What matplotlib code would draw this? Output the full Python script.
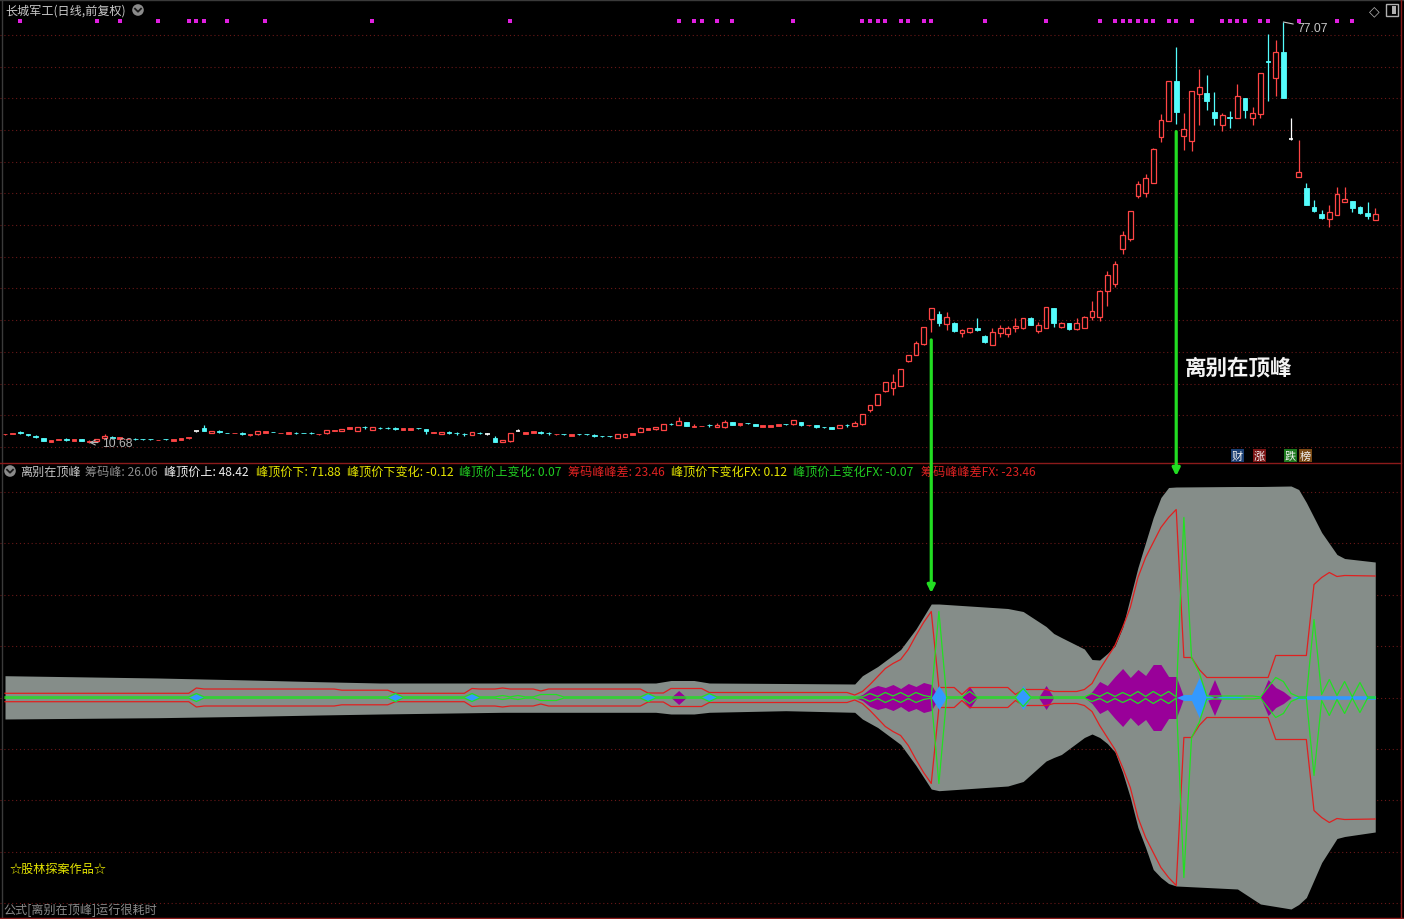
import numpy as np
import matplotlib
matplotlib.use('Agg')
import matplotlib.pyplot as plt
from matplotlib.patches import Rectangle, Circle, ConnectionPatch
from matplotlib.transforms import blended_transform_factory

plt.rcParams['font.family'] = ['Noto Sans CJK SC', 'DejaVu Sans']

# ---------------- data ----------------
OPEN = [11.98, 12.10, 12.24, 12.02, 11.62, 11.34, 10.81, 11.15, 11.15, 10.97,
        11.23, 10.71, 10.92, 11.34, 11.49, 11.23, 11.20, 11.25, 11.20, 11.20,
        11.05, 11.20, 10.97, 11.13, 11.34, 12.55, 13.02, 12.18, 12.41, 12.20,
        12.15, 12.23, 11.81, 11.97, 12.23, 12.36, 12.15, 12.07, 12.20, 12.20,
        12.20, 11.95, 12.13, 12.50, 12.49, 12.86, 12.54, 13.10, 12.70, 12.99,
        12.99, 12.88, 12.70, 12.70, 12.94, 12.76, 12.20, 12.02, 12.25, 12.15,
        11.99, 11.91, 12.20, 12.02, 11.44, 10.76, 10.86, 12.55, 12.02, 12.23,
        12.25, 12.15, 11.95, 12.00, 11.76, 12.00, 12.00, 11.77, 11.68, 11.68,
        11.38, 11.60, 11.91, 12.38, 12.70, 12.76, 12.70, 13.62, 13.49, 13.92,
        13.16, 13.26, 13.41, 13.18, 13.18, 13.87, 13.49, 13.73, 13.60, 13.18,
        13.18, 13.34, 13.57, 13.55, 13.92, 13.37, 13.39, 13.10, 13.13, 12.97,
        13.41, 13.26, 13.55, 15.86, 16.60, 18.76, 19.24, 19.65, 23.59, 24.54,
        26.18, 30.18, 30.97, 29.44, 29.55, 27.97, 28.17, 28.71, 27.49, 26.12,
        27.97, 27.81, 28.71, 28.71, 30.34, 28.33, 28.81, 31.92, 28.87, 29.55,
        28.55, 28.76, 30.45, 30.45, 34.65, 35.70, 41.20, 42.81, 49.60, 50.00,
        51.65, 58.91, 61.49, 67.76, 59.12, 58.33, 65.70, 65.86, 62.81, 60.85,
        62.05, 61.91, 65.02, 61.96, 62.59, 70.90, 68.27, 72.29, 58.60, 52.64,
        50.86, 47.81, 46.76, 46.02, 46.65, 48.70, 48.76, 47.91, 46.96, 45.86]
HIGH = [12.10, 12.22, 12.45, 12.08, 11.80, 11.40, 11.06, 11.24, 11.35, 11.26,
        11.26, 11.02, 11.28, 11.95, 11.70, 11.55, 11.30, 11.42, 11.24, 11.24,
        11.14, 11.24, 11.27, 11.43, 11.59, 12.55, 13.45, 12.52, 12.60, 12.24,
        12.24, 12.27, 12.10, 12.53, 12.53, 12.40, 12.24, 12.38, 12.40, 12.24,
        12.40, 12.04, 12.72, 12.59, 12.85, 13.17, 13.12, 13.30, 13.12, 13.18,
        13.18, 13.06, 13.01, 12.96, 12.98, 12.80, 12.29, 12.38, 12.44, 12.34,
        12.18, 12.33, 12.39, 12.20, 11.66, 11.10, 12.17, 12.81, 12.33, 12.53,
        12.44, 12.34, 12.04, 12.04, 12.01, 12.04, 12.04, 11.96, 11.72, 11.72,
        12.01, 12.01, 12.22, 13.18, 13.01, 13.18, 13.59, 13.81, 14.75, 13.96,
        13.55, 13.35, 13.60, 13.76, 14.23, 13.91, 13.80, 13.77, 13.64, 13.43,
        13.43, 13.64, 13.61, 14.27, 13.96, 13.46, 13.43, 13.14, 13.17, 13.43,
        13.60, 14.07, 15.17, 16.60, 18.33, 20.22, 21.49, 22.28, 24.50, 26.66,
        28.91, 31.92, 31.44, 31.33, 29.75, 28.53, 28.75, 30.34, 27.70, 28.76,
        29.23, 29.12, 30.34, 30.33, 30.50, 29.75, 32.11, 31.96, 29.64, 29.59,
        30.29, 30.58, 33.02, 34.69, 37.80, 39.30, 44.00, 47.30, 52.00, 53.00,
        57.10, 62.54, 67.80, 73.12, 62.70, 66.17, 69.65, 68.70, 65.97, 62.70,
        63.02, 67.28, 65.06, 63.65, 69.06, 75.17, 74.23, 77.07, 61.91, 58.44,
        51.65, 48.97, 47.39, 48.18, 51.07, 51.02, 48.80, 48.07, 48.65, 47.70]
LOW = [11.92, 12.05, 12.00, 11.76, 11.40, 10.92, 10.78, 11.12, 10.95, 10.94,
       10.94, 10.68, 10.88, 11.30, 11.25, 11.20, 11.17, 11.05, 11.12, 11.12,
       11.02, 11.12, 10.94, 11.10, 11.30, 12.30, 12.50, 12.15, 12.15, 12.12,
       12.12, 11.94, 11.78, 11.94, 12.20, 12.28, 12.12, 12.04, 11.96, 12.12,
       11.96, 11.92, 12.10, 12.47, 12.46, 12.83, 12.50, 12.86, 12.66, 12.76,
       12.76, 12.64, 12.67, 12.67, 12.86, 12.07, 12.17, 11.99, 12.02, 11.92,
       11.76, 11.88, 11.97, 11.85, 10.78, 10.73, 10.83, 12.50, 11.99, 12.20,
       12.02, 11.92, 11.92, 11.92, 11.73, 11.92, 11.92, 11.54, 11.60, 11.60,
       11.35, 11.57, 11.88, 12.35, 12.67, 12.73, 12.67, 13.39, 13.46, 13.31,
       13.13, 13.23, 13.18, 13.15, 12.97, 13.46, 13.28, 13.65, 13.25, 13.15,
       13.15, 13.31, 13.49, 13.52, 13.34, 13.34, 12.97, 13.02, 12.83, 12.94,
       13.18, 13.23, 13.52, 15.54, 16.56, 18.72, 18.18, 19.61, 23.40, 24.50,
       26.14, 28.08, 29.03, 28.49, 28.08, 27.38, 27.92, 28.29, 26.34, 26.08,
       27.38, 27.38, 28.08, 28.67, 29.24, 27.92, 28.77, 28.97, 28.83, 28.49,
       28.51, 28.72, 30.02, 29.92, 32.28, 35.30, 40.50, 42.50, 49.30, 49.50,
       51.60, 58.17, 61.45, 60.97, 56.91, 56.75, 60.81, 63.17, 60.85, 59.91,
       60.33, 61.87, 61.91, 60.85, 61.96, 64.64, 65.34, 65.08, 58.50, 52.60,
       48.19, 47.12, 45.97, 44.75, 46.61, 48.66, 47.12, 46.76, 45.97, 45.82]
CLOSE = [12.04, 12.16, 12.20, 11.81, 11.58, 10.97, 11.03, 11.20, 11.11, 11.23,
         10.97, 10.97, 11.23, 11.76, 11.45, 11.50, 11.25, 11.21, 11.16, 11.16,
         11.10, 11.16, 11.23, 11.39, 11.55, 12.55, 12.55, 12.49, 12.37, 12.16,
         12.20, 11.97, 12.07, 12.49, 12.49, 12.32, 12.20, 12.34, 12.16, 12.16,
         12.16, 12.00, 12.68, 12.55, 12.81, 13.13, 13.08, 13.06, 13.08, 12.95,
         12.95, 12.84, 12.97, 12.92, 12.90, 12.49, 12.25, 12.34, 12.21, 12.11,
         11.95, 12.29, 12.16, 12.02, 10.81, 11.07, 12.13, 12.55, 12.29, 12.49,
         12.21, 12.11, 12.00, 11.96, 11.97, 11.96, 11.96, 11.73, 11.64, 11.64,
         11.97, 11.97, 12.18, 12.97, 12.97, 13.08, 13.55, 13.58, 14.07, 13.34,
         13.21, 13.31, 13.37, 13.49, 13.97, 13.49, 13.76, 13.69, 13.28, 13.39,
         13.39, 13.60, 13.53, 14.23, 13.49, 13.42, 13.13, 13.06, 12.86, 13.39,
         13.37, 13.76, 15.13, 16.55, 18.29, 20.18, 20.18, 22.24, 24.45, 26.39,
         28.87, 31.87, 29.55, 30.45, 28.29, 28.49, 28.71, 28.49, 26.60, 28.13,
         28.71, 28.76, 29.03, 30.29, 29.28, 29.23, 32.07, 29.60, 29.60, 28.65,
         29.60, 30.54, 31.44, 34.65, 37.20, 38.90, 43.50, 47.23, 51.50, 52.50,
         57.02, 61.60, 67.76, 62.91, 60.18, 66.13, 66.76, 64.60, 61.91, 62.39,
         61.95, 65.39, 63.22, 62.70, 69.02, 70.70, 72.29, 65.12, 58.60, 53.34,
         48.23, 47.23, 46.13, 47.07, 49.91, 49.12, 47.75, 46.91, 46.49, 46.76]

# signal dots along the top
DOT_IDX = [2, 12, 15, 20, 24, 25, 26, 29, 34, 48, 66, 88, 90, 91, 93, 95, 103,
           112, 113, 114, 115, 117, 118, 120, 121, 128, 136, 143, 145, 146, 147,
           148, 149, 150, 152, 153, 155, 159, 160, 161, 162, 164, 165, 169, 174, 176]

# lower indicator: half-widths around the zero line
G_IDX = [0, 20, 32, 41, 49, 65, 85, 87, 90, 92, 102, 111, 112, 114, 117, 119, 121, 122,
         131, 133, 136, 137, 138, 141, 142, 143, 144, 145, 146, 147, 148, 149, 150, 151,
         152, 153, 161, 164, 168, 169, 170, 172, 174, 175, 179]
G_UP = [21.8, 19.5, 17.5, 15.8, 14.5, 14.5, 14.5, 17, 17, 14.5, 14, 13.5, 21.8, 31, 48,
        68.5, 93.5, 93.5, 89, 86, 71, 64, 60, 48.5, 38, 37.5, 44, 51.5, 70, 100, 130,
        155, 180, 200, 210, 210.5, 211, 211, 211.5, 208, 195, 165, 143, 139, 135.5]
G_DN = [21.5, 20.2, 18.8, 17.5, 16.5, 14.8, 14.8, 16.5, 16.5, 14.8, 13.2, 14.8, 21.5,
        30, 47, 68, 91.5, 93.2, 88.5, 84, 63.5, 60, 57, 40, 36.5, 40, 46, 54.5, 75, 100,
        130, 150, 172, 180, 186, 188.5, 191.5, 206.5, 211.5, 207, 200, 165, 141, 139, 134.5]

R_IDX = [0, 24, 25, 26, 43, 44, 50, 51, 60, 61, 62, 64, 65, 66, 69, 70, 71, 83, 84, 86,
         87, 91, 92, 110, 111, 112, 113, 114, 115, 116, 117, 118, 119, 120, 121, 122,
         124, 125, 126, 131, 132, 133, 136, 137, 140, 141, 142, 143, 144, 145, 146, 147,
         148, 149, 150, 151, 152, 153, 154, 155, 156, 157, 165, 166, 170, 171, 172, 173,
         174, 175, 179]
R_HW = [4.2, 4.2, 9.5, 8.5, 8.5, 7.3, 7.3, 4.2, 4.2, 9, 8.5, 8.5, 9.5, 8.5, 8.5, 6.5,
        8.5, 8.5, 4.5, 4.5, 9, 9, 5, 5, 2.5, 6, 13, 21, 29, 34, 38, 48, 62, 75, 86, 10,
        10, 3, 10, 10, 3, 8, 8, 6, 6, 8, 14, 28, 40, 52, 70, 90, 120, 140, 155, 170, 180,
        188, 40, 40, 28, 20, 20, 42, 42, 113, 120, 125, 121, 122, 121.5]

GR_IDX = [0, 24, 25, 26, 50, 51, 52, 60, 61, 62, 64, 65, 66, 67, 68, 69, 70, 72, 73, 83,
          84, 85, 91, 92, 93, 112, 113, 114, 115, 116, 117, 118, 119, 120, 121, 122, 123,
          125, 126, 127, 132, 133, 134, 141, 142, 143, 144, 145, 146, 147, 148, 149, 150,
          151, 152, 153, 154, 155, 156, 157, 163, 164, 166, 167, 168, 169, 170, 171, 172,
          173, 174, 175, 176, 177, 178, 179]
GR_HW = [0.6, 0.6, 4, 0.6, 0.6, 4, 0.6, 0.6, 4, 0.6, 0.6, 2, 0.6, 2, 0.6, 0.6, 3, 3,
         0.6, 0.6, 4, 0.6, 0.6, 4, 0.6, 0.6, 4, 1, 5, 1.5, 5, 1, 5, 2, 0.6, 86, 0.6, 0.6,
         6, 0.6, 0.6, 9, 0.6, 0.6, 4, 1, 5, 1, 5, 1.5, 6, 1, 6, 1.5, 6, 0.6, 180, 40, 25,
         1.5, 1.5, 0.6, 20, 16, 4, 0.6, 0.6, 78, 3, 18, 2, 16, 0.6, 15, 0.6, 0.6]

P_IDX = [87, 88, 89, 111, 112, 113, 114, 115, 116, 117, 118, 119, 120, 121, 122, 125,
         126, 127, 135, 136, 137, 141, 142, 143, 144, 145, 146, 147, 148, 149, 150, 151,
         152, 153, 154, 157, 158, 159, 164, 165, 166, 167, 168]
P_HW = [0, 7, 0, 0, 3, 9, 12, 10, 13, 9, 14, 11, 15, 13, 0, 0, 11, 0, 0, 12, 0, 0, 6,
        16, 12, 21, 29, 20, 28, 22, 33, 33, 21, 21, 0, 0, 18, 0, 0, 18, 10, 6, 0]

B_IDX = [24, 25, 26, 50, 51, 52, 60, 61, 62, 83, 84, 85, 91, 92, 93, 121, 122, 123,
         132, 133, 134, 153, 154, 155, 156, 157, 158, 159, 161, 162, 168, 169, 179]
B_HW = [0, 4, 0, 0, 4, 0, 0, 4, 0, 0, 4, 0, 0, 4, 0, 0, 12, 0, 0, 12, 0, 0, 3, 3, 20,
        3, 0, 1.5, 1.5, 0, 0, 1.8, 1.8]

ARROW_IDX = [121, 153]

TITLE = '长城军工(日线,前复权)'
IND_NAME = '离别在顶峰'
LEG_LABELS = ['筹码峰', '峰顶价上', '峰顶价下', '峰顶价下变化', '峰顶价上变化',
              '筹码峰峰差', '峰顶价下变化FX', '峰顶价上变化FX', '筹码峰峰差FX']
LEG_VALUES = ['26.06', '48.42', '71.88', '-0.12', '0.07', '23.46', '0.12', '-0.07', '-23.46']
LEG_COLORS = ['#8C8C8C', '#F0F0F0', '#E6E600', '#E6E600', '#22CC22',
              '#DD2222', '#E6E600', '#22CC22', '#DD2222']
LEG_X = [85, 164, 256, 347, 459, 568, 671, 793, 921]
BADGES = [('财', '#1B3F73', 1231), ('涨', '#7A1414', 1253), ('跌', '#1E7A1E', 1284), ('榜', '#7A4A14', 1299)]

# ---------------- figure ----------------
W_PX, H_PX = 1404, 920
fig = plt.figure(figsize=(W_PX / 100, H_PX / 100), dpi=100, facecolor='black')
XLIM = (-5 / 7.655, (W_PX - 5) / 7.655)

ax1 = fig.add_axes([0, 456 / 920, 1, 464 / 920])
ax2 = fig.add_axes([0, 2 / 920, 1, 454 / 920])
for ax in (ax1, ax2):
    ax.set_axis_off()
    ax.set_xlim(*XLIM)
ax1.set_ylim(7.45, 80.70)
ax2.set_ylim(-219.5, 234.5)

GRID_C = '#6A1818'
for p in range(10, 80, 5):
    ax1.axhline(p, color=GRID_C, lw=0.8, ls=(0, (1, 2.5)), zorder=0)
for k in range(-4, 5):
    ax2.axhline(k * 51.35, color=GRID_C, lw=0.8, ls=(0, (1, 2.5)), zorder=0)

# candles
UP, DN, FL = '#FF4545', '#54FCFC', '#FFFFFF'
BW = 0.31
for i, (o, h, l, c) in enumerate(zip(OPEN, HIGH, LOW, CLOSE)):
    lo, hi = min(o, c), max(o, c)
    if c > o:
        if h > hi:
            ax1.vlines(i, hi, h, color=UP, lw=0.9, zorder=3)
        if l < lo:
            ax1.vlines(i, l, lo, color=UP, lw=0.9, zorder=3)
        if hi - lo < 0.3:
            ax1.add_patch(Rectangle((i - BW, lo), 2 * BW, max(hi - lo, 0.1), fc=UP, ec=UP, lw=0.6, zorder=4))
        else:
            ax1.add_patch(Rectangle((i - BW, lo), 2 * BW, hi - lo, fc='black', ec=UP, lw=0.9, zorder=4))
    elif c < o:
        ax1.vlines(i, l, h, color=DN, lw=0.9, zorder=3)
        ax1.add_patch(Rectangle((i - BW, lo), 2 * BW, max(hi - lo, 0.1), fc=DN, ec=DN, lw=0.6, zorder=4))
    else:
        ax1.vlines(i, l, h, color=FL, lw=0.9, zorder=3)
        ax1.hlines(c, i - BW, i + BW, color=FL, lw=1.2, zorder=4)

# signal dots
tr = blended_transform_factory(ax1.transData, ax1.transAxes)
ax1.scatter(DOT_IDX, [0.9526] * len(DOT_IDX), marker='s', s=5, color='#E020E0', transform=tr, lw=0, zorder=5)

# max / min labels
imax = int(np.argmax(HIGH))
imin = int(np.argmin(LOW))
ax1.annotate(f'{HIGH[imax]:.2f}', xy=(imax, HIGH[imax]), xytext=(14, -6), textcoords='offset pixels',
             color='#C8C8C8', fontsize=8.8, va='center', ha='left', family=['Liberation Sans', 'DejaVu Sans'],
             arrowprops=dict(arrowstyle='-', color='#C8C8C8', lw=0.8, shrinkA=1, shrinkB=0), zorder=6)
ax1.annotate(f'{LOW[imin]:.2f}', xy=(imin, LOW[imin]), xytext=(13, 0), textcoords='offset pixels',
             color='#B4B4B4', fontsize=8.8, va='center', ha='left', family=['Liberation Sans', 'DejaVu Sans'],
             arrowprops=dict(arrowstyle='->', color='#B4B4B4', lw=0.8, shrinkA=1, shrinkB=0), zorder=6)

# lower indicator
gi = np.array(G_IDX)
ax2.fill_between(gi, -np.array(G_DN), np.array(G_UP), color='#858D89', lw=0, zorder=2)
pi_, ph = np.array(P_IDX), np.array(P_HW)
ax2.fill_between(pi_, -ph, ph, color='#990099', lw=0, zorder=3)
ri, rh = np.array(R_IDX), np.array(R_HW)
ax2.plot(ri, rh, color='#E02020', lw=0.9, zorder=4)
ax2.plot(ri, -rh, color='#E02020', lw=0.9, zorder=4)
bi, bh = np.array(B_IDX), np.array(B_HW)
ax2.fill_between(bi, -bh, bh, color='#3399FF', lw=0, zorder=5)
gri, grh = np.array(GR_IDX), np.array(GR_HW)
ax2.plot(gri, grh, color='#22E022', lw=0.9, zorder=6)
ax2.plot(gri, -grh, color='#22E022', lw=0.9, zorder=6)

# green arrows crossing panels
gup_interp = np.interp(ARROW_IDX, G_IDX, G_UP)
for a, gt in zip(ARROW_IDX, gup_interp):
    con = ConnectionPatch(xyA=(a, LOW[a] - 1.2), coordsA=ax1.transData,
                          xyB=(a, gt + 11), coordsB=ax2.transData,
                          arrowstyle='-|>', mutation_scale=11, lw=2.3, color='#22DD22',
                          shrinkA=0, shrinkB=0, zorder=20)
    fig.add_artist(con)

# overlay for decorations (pixel coords)
ax0 = fig.add_axes([0, 0, 1, 1], zorder=5)
ax0.set_xlim(0, W_PX)
ax0.set_ylim(H_PX, 0)
ax0.set_axis_off()
ax0.patch.set_alpha(0)

# borders
ax0.plot([1.5, 1.5], [0, 918], color='#3A3A3A', lw=1)
ax0.plot([0, W_PX], [0.8, 0.8], color='#3A3A3A', lw=1)
ax0.plot([0, 1401], [464, 464], color='#8B1A1A', lw=1)
ax0.plot([1401, 1401], [0, 920], color='#8B1A1A', lw=1)
ax0.plot([0, W_PX], [918.5, 918.5], color='#8B1A1A', lw=1)

ax0.text(5, 11, TITLE, color='#C8C8C8', fontsize=8.7, va='center', ha='left')
for cx, cy in ((138, 11), (10, 472)):
    ax0.add_patch(Circle((cx, cy), 5.8, fc='#8A8A8A', ec='none'))
    ax0.plot([cx - 3, cx, cx + 3], [cy - 1.3, cy + 1.7, cy - 1.3], color='#1A1A1A', lw=1.3)
ax0.text(1374, 11, '◇', color='#B0B0B0', fontsize=10, va='center', ha='center', family='DejaVu Sans')
ax0.add_patch(Rectangle((1386, 5), 12, 12, fc='none', ec='#B0B0B0', lw=1))
ax0.add_patch(Rectangle((1392, 7), 4, 8, fc='#B0B0B0', ec='none'))

ax0.text(20, 472, IND_NAME, color='#C8C8C8', fontsize=8.7, va='center', ha='left')
for lab, val, col, x in zip(LEG_LABELS, LEG_VALUES, LEG_COLORS, LEG_X):
    ax0.text(x, 472, f'{lab}: {val}', color=col, fontsize=8.7, va='center', ha='left')

ax0.text(10, 869, '☆股林探案作品☆', color='#E6E600', fontsize=8.7, va='center', ha='left')
ax0.text(3, 910, '公式[离别在顶峰]运行很耗时', color='#8A8A8A', fontsize=8.7, va='center', ha='left')
ax0.text(1239, 368, IND_NAME, color='#F4F4F4', fontsize=15.5, fontweight='bold', va='center', ha='center')

for ch, bg, x in BADGES:
    ax0.add_patch(Rectangle((x, 450), 13, 13, fc=bg, ec='none'))
    ax0.text(x + 6.5, 456.5, ch, color='#F0F0F0', fontsize=8, va='center', ha='center')

fig.savefig('out.png', dpi=100, facecolor='black')
